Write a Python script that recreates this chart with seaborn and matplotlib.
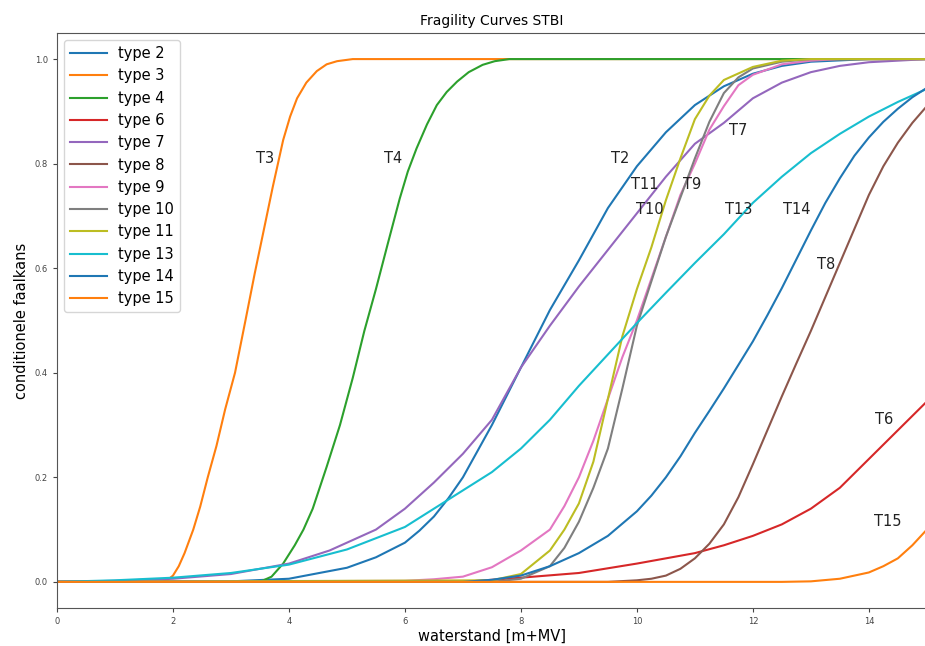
import matplotlib
matplotlib.use("Agg")
import matplotlib.pyplot as plt
import seaborn as sns
import pandas as pd

# Fragility curves per dike type: water level [m+MV] vs conditional failure probability
type_names = ["type 2", "type 3", "type 4", "type 6", "type 7", "type 8",
              "type 9", "type 10", "type 11", "type 13", "type 14", "type 15"]

t2_x = [0, 3, 4, 5, 5.5, 6, 6.25, 6.5, 6.75, 7, 7.25, 7.5, 7.75, 8, 8.5, 9, 9.5, 10, 10.5, 11, 11.5, 12, 12.5, 13, 14, 15]
t2_y = [0, 0.001, 0.006, 0.027, 0.047, 0.075, 0.098, 0.125, 0.16, 0.2, 0.25, 0.3, 0.355, 0.41, 0.52, 0.615, 0.715, 0.795, 0.86, 0.912, 0.948, 0.972, 0.987, 0.995, 1.0, 1.0]

t3_x = [0, 1.8, 1.9, 2.0, 2.1, 2.2, 2.35, 2.47, 2.6, 2.75, 2.9, 3.07, 3.25, 3.41, 3.57, 3.72, 3.9, 4.02, 4.14, 4.3, 4.48, 4.65, 4.83, 5.1, 15]
t3_y = [0, 0.0, 0.003, 0.012, 0.03, 0.055, 0.1, 0.144, 0.2, 0.26, 0.33, 0.40, 0.5, 0.59, 0.675, 0.755, 0.845, 0.89, 0.925, 0.955, 0.977, 0.99, 0.996, 1.0, 1.0]

t4_x = [0, 3.5, 3.7, 3.9, 4.1, 4.25, 4.41, 4.65, 4.88, 5.1, 5.3, 5.5, 5.7, 5.91, 6.05, 6.2, 6.38, 6.55, 6.72, 6.9, 7.1, 7.34, 7.55, 7.8, 15]
t4_y = [0, 0.0, 0.01, 0.035, 0.07, 0.1, 0.14, 0.22, 0.3, 0.39, 0.48, 0.56, 0.645, 0.733, 0.785, 0.829, 0.875, 0.912, 0.937, 0.957, 0.975, 0.989, 0.996, 1.0, 1.0]

t6_x = [0, 7, 8, 9, 10, 11, 11.5, 12, 12.5, 13, 13.5, 14, 14.5, 15]
t6_y = [0, 0.0, 0.008, 0.017, 0.035, 0.055, 0.07, 0.088, 0.11, 0.14, 0.18, 0.235, 0.29, 0.345]

t7_x = [0, 1, 2, 3, 4, 4.7, 5.5, 6, 6.5, 7, 7.5, 8, 8.5, 9, 9.5, 10, 10.5, 11, 11.5, 12, 12.5, 13, 13.5, 14, 15]
t7_y = [0, 0.002, 0.006, 0.015, 0.035, 0.06, 0.1, 0.14, 0.19, 0.245, 0.31, 0.41, 0.49, 0.565, 0.635, 0.705, 0.775, 0.838, 0.878, 0.925, 0.955, 0.975, 0.987, 0.994, 1.0]

t8_x = [0, 9.5, 10, 10.25, 10.5, 10.75, 11, 11.25, 11.5, 11.75, 12, 12.25, 12.5, 12.75, 13, 13.25, 13.5, 13.75, 14, 14.25, 14.5, 14.75, 15]
t8_y = [0, 0.0, 0.003, 0.006, 0.012, 0.025, 0.045, 0.073, 0.11, 0.162, 0.225, 0.29, 0.355, 0.418, 0.48, 0.545, 0.61, 0.675, 0.74, 0.795, 0.84, 0.878, 0.91]

t9_x = [0, 6, 6.5, 7, 7.5, 8, 8.5, 8.75, 9, 9.25, 9.5, 9.75, 10, 10.25, 10.5, 10.75, 11, 11.25, 11.5, 11.75, 12, 12.5, 13, 13.5, 15]
t9_y = [0, 0.002, 0.005, 0.01, 0.028, 0.06, 0.1, 0.145, 0.2, 0.27, 0.35, 0.43, 0.5, 0.58, 0.66, 0.74, 0.8, 0.865, 0.91, 0.95, 0.97, 0.99, 0.997, 1.0, 1.0]

t10_x = [0, 7.5, 8, 8.5, 8.75, 9, 9.25, 9.5, 9.75, 10, 10.25, 10.5, 10.75, 11, 11.25, 11.5, 11.75, 12, 12.5, 13, 15]
t10_y = [0, 0.0, 0.006, 0.03, 0.065, 0.115, 0.18, 0.255, 0.37, 0.49, 0.575, 0.66, 0.735, 0.81, 0.88, 0.935, 0.965, 0.982, 0.995, 1.0, 1.0]

t11_x = [0, 7.5, 8, 8.5, 8.75, 9, 9.25, 9.5, 9.75, 10, 10.25, 10.5, 10.75, 11, 11.25, 11.5, 12, 12.5, 13, 15]
t11_y = [0, 0.003, 0.015, 0.06, 0.1, 0.15, 0.23, 0.35, 0.47, 0.56, 0.64, 0.73, 0.81, 0.885, 0.93, 0.96, 0.985, 0.997, 1.0, 1.0]

t13_x = [0, 1, 2, 3, 4, 5, 6, 7, 7.5, 8, 8.5, 9, 9.5, 10, 10.5, 11, 11.5, 12, 12.5, 13, 13.5, 14, 14.5, 15]
t13_y = [0, 0.003, 0.008, 0.017, 0.033, 0.062, 0.105, 0.175, 0.21, 0.255, 0.31, 0.375, 0.435, 0.495, 0.553, 0.61, 0.665, 0.725, 0.775, 0.82, 0.857, 0.89, 0.918, 0.943]

t14_x = [0, 7, 7.5, 8, 8.5, 9, 9.5, 10, 10.25, 10.5, 10.75, 11, 11.25, 11.5, 11.75, 12, 12.25, 12.5, 12.75, 13, 13.25, 13.5, 13.75, 14, 14.25, 14.5, 14.75, 15]
t14_y = [0, 0.0, 0.004, 0.012, 0.03, 0.055, 0.088, 0.135, 0.165, 0.2, 0.24, 0.285, 0.327, 0.37, 0.415, 0.46, 0.51, 0.562, 0.617, 0.672, 0.725, 0.772, 0.815, 0.85, 0.88, 0.905, 0.927, 0.945]

t15_x = [0, 12.5, 13, 13.5, 14, 14.25, 14.5, 14.75, 15]
t15_y = [0, 0.0, 0.001, 0.006, 0.018, 0.03, 0.045, 0.07, 0.1]

# Curve annotations (label, x, y)
note_text = ["T3", "T4", "T2", "T7", "T11", "T9", "T10", "T13", "T14", "T8", "T6", "T15"]
note_x = [3.59, 5.79, 9.72, 11.74, 10.14, 10.95, 10.22, 11.76, 12.76, 13.26, 14.26, 14.33]
note_y = [0.81, 0.81, 0.81, 0.864, 0.76, 0.76, 0.712, 0.712, 0.712, 0.608, 0.31, 0.115]

curves = [(t2_x, t2_y), (t3_x, t3_y), (t4_x, t4_y), (t6_x, t6_y), (t7_x, t7_y),
          (t8_x, t8_y), (t9_x, t9_y), (t10_x, t10_y), (t11_x, t11_y),
          (t13_x, t13_y), (t14_x, t14_y), (t15_x, t15_y)]

frames = []
for name, (xs, ys) in zip(type_names, curves):
    frames.append(pd.DataFrame({"waterstand": xs, "faalkans": ys, "type": name}))
df = pd.concat(frames, ignore_index=True)

tab10 = sns.color_palette("tab10", 10)
palette = [tab10[i % 10] for i in range(len(type_names))]

fig = plt.figure(figsize=(9.25, 6.46), dpi=100)
ax = fig.add_axes([0.0616, 0.0588, 0.9404, 0.8902])

sns.lineplot(data=df, x="waterstand", y="faalkans", hue="type", hue_order=type_names,
             palette=palette, sort=False, estimator=None, linewidth=1.5,
             legend=False, ax=ax)
for ln in ax.lines:
    ln.set_solid_joinstyle("round")

for txt, tx, ty in zip(note_text, note_x, note_y):
    ax.text(tx, ty, txt, ha="center", va="center", fontsize=10.5, color="#222222")

ax.set_xlim(0, 15)
ax.set_ylim(-0.05, 1.05)
ax.set_xticks([0, 2, 4, 6, 8, 10, 12, 14])
ax.set_yticks([0.0, 0.2, 0.4, 0.6, 0.8, 1.0])
ax.set_yticklabels(["0.0", "0.2", "0.4", "0.6", "0.8", "1.0"])
ax.tick_params(labelsize=6, length=3, colors="#444444")
for sp in ax.spines.values():
    sp.set_color("#555555")

ax.set_title("Fragility Curves STBI", fontsize=10)
ax.set_xlabel("waterstand [m+MV]", fontsize=10.5, labelpad=2)
ax.set_ylabel("conditionele faalkans", fontsize=10.5)

ax.legend(handles=ax.lines[:len(type_names)], labels=type_names,
          loc="upper left", fontsize=10.5, handlelength=2.5)

fig.savefig("out.png", dpi=100)
